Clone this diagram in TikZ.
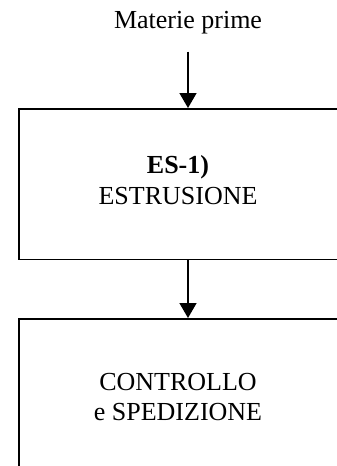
\documentclass[tikz,border=0pt]{standalone}
\usepackage{fontspec}
\setmainfont{Liberation Serif}
\usetikzlibrary{arrows.meta}
\begin{document}
\begin{tikzpicture}[x=1pt,y=-1pt,
  line width=1.5pt,
  procbox/.style={draw, anchor=north west, minimum width=400pt, inner sep=0pt},
  lbl/.style={anchor=base, inner sep=0pt, font=\fontsize{26}{30}\selectfont},
  arr/.style={-{Triangle[width=17pt,length=15pt]}}]
\useasboundingbox (0,0) rectangle (337,466);
\clip (0,0) rectangle (337,466);
\node[procbox, minimum height=150.5pt] (box1) at (18,108) {};
\node[procbox, minimum height=200pt] (box2) at (18,318) {};
\node[lbl] (mp) at (188,28.3) {Materie prime};
\node[lbl] (es) at (178,173) {\textbf{ES-1)}};
\node[lbl] (estr) at (178,204) {ESTRUSIONE};
\node[lbl] (ctrl) at (178,390) {CONTROLLO};
\node[lbl] (sped) at (178,420) {e SPEDIZIONE};
\coordinate (a1) at ([yshift=-17pt]mp.south);
\draw[arr] (a1) -- (a1 |- box1.north);
\draw[arr] (a1 |- box1.south) -- (a1 |- box2.north);
\end{tikzpicture}
\end{document}
